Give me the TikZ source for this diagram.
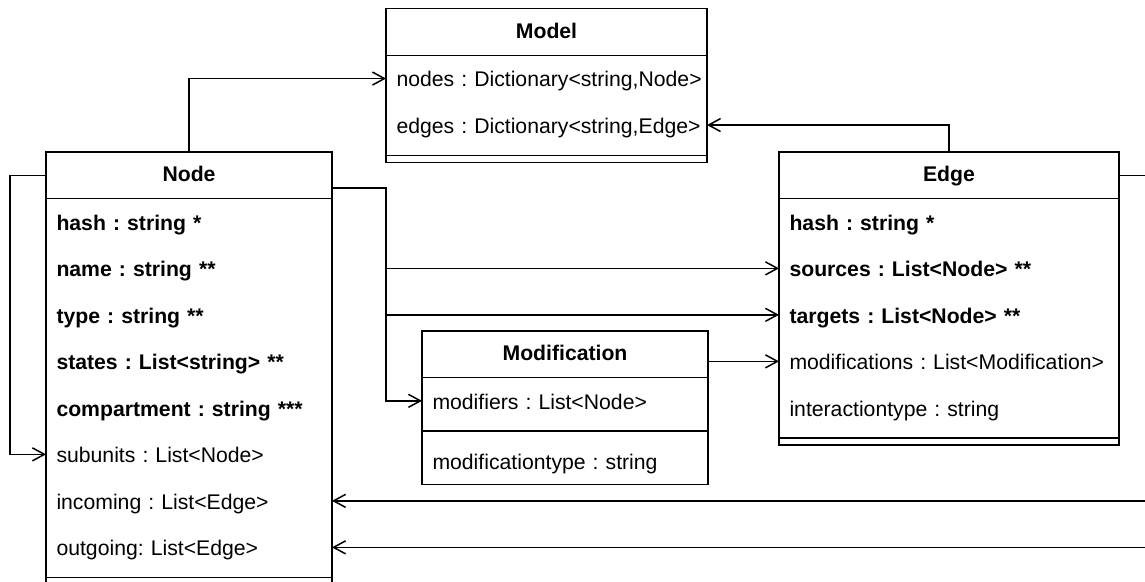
\documentclass[tikz,border=0pt]{standalone}
\usepackage{fontspec}
\setmainfont{Liberation Sans}
\frenchspacing
\usetikzlibrary{arrows.meta, positioning}

\begin{document}
\begin{tikzpicture} [
	x=1pt, y=-1pt, % coordinates in pixels, y goes down
	line width=1.5pt,
	>={Straight Barb[length=12pt, width=13pt]}, % open arrow heads
	every node/.style={font=\fontsize{21.2}{25}\selectfont, inner sep=0pt, outer sep=0pt},
	classhead/.style={draw, anchor=north west, minimum width=#1, minimum height=46.6pt, font=\fontsize{21.2}{25}\selectfont\bfseries, execute at begin node={\rule[-5pt]{0pt}{23pt}}}, % title of a class
	attr/.style={text width=#1, minimum height=46.5pt, align=left, execute at begin node={\noindent\hspace*{10.5pt}\rule[-5pt]{0pt}{26.5pt}}}, % one row of a class
	sepbox/.style={minimum width=#1, minimum height=14pt}, % gap with a line in it
	]
	\useasboundingbox (0,0) rectangle (1145,581);
	\clip (0,0) rectangle (1145,581);

	% Model
	\node[classhead=321pt] (mHead) at (386,8.7) {Model};
	\node[attr=321pt, below=0pt of mHead] (mNodes) {nodes : Dictionary<string,Node>};
	\node[attr=321pt, below=0pt of mNodes] (mEdges) {edges : Dictionary<string,Edge>};
	\node[sepbox=321pt, below=0pt of mEdges] (mSep) {};
	\draw (mHead.north west) rectangle (mSep.south east);
	\draw (mSep.west) -- (mSep.east);

	% Node
	\node[classhead=286pt] (nHead) at (46,152) {Node};
	\node[attr=286pt, below=0pt of nHead] (nHash) {\textbf{hash : string *}};
	\node[attr=286pt, below=0pt of nHash] (nName) {\textbf{name : string **}};
	\node[attr=286pt, below=0pt of nName] (nType) {\textbf{type : string **}};
	\node[attr=286pt, below=0pt of nType] (nStates) {\textbf{states : List<string> **}};
	\node[attr=286pt, below=0pt of nStates] (nComp) {\textbf{compartment : string ***}};
	\node[attr=286pt, below=0pt of nComp] (nSub) {subunits : List<Node>};
	\node[attr=286pt, below=0pt of nSub] (nIn) {incoming : List<Edge>};
	\node[attr=286pt, below=0pt of nIn] (nOut) {outgoing: List<Edge>};
	\node[sepbox=286pt, below=0pt of nOut] (nSep) {};
	\draw (nHead.north west) rectangle (nSep.south east);
	\draw (nSep.west) -- (nSep.east);

	% Edge
	\node[classhead=340pt] (eHead) at (779,152) {Edge};
	\node[attr=340pt, below=0pt of eHead] (eHash) {\textbf{hash : string *}};
	\node[attr=340pt, below=0pt of eHash] (eSrc) {\textbf{sources : List<Node> **}};
	\node[attr=340pt, below=0pt of eSrc] (eTgt) {\textbf{targets : List<Node> **}};
	\node[attr=340pt, below=0pt of eTgt] (eMods) {modifications : List<Modification>};
	\node[attr=340pt, below=0pt of eMods] (eType) {interactiontype : string};
	\node[sepbox=340pt, below=0pt of eType] (eSep) {};
	\draw (eHead.north west) rectangle (eSep.south east);
	\draw (eSep.west) -- (eSep.east);

	% Modification
	\node[classhead=286pt] (modHead) at (422,331) {Modification};
	\node[attr=286pt, below=0pt of modHead] (modMods) {modifiers : List<Node>};
	\node[sepbox=286pt, below=0pt of modMods] (modSep) {};
	\node[attr=286pt, below=0pt of modSep] (modType) {modificationtype : string};
	\draw (modHead.north west) rectangle (modType.south east);
	\draw (modSep.west) -- (modSep.east);

	% connectors
	\coordinate (nRight) at ([yshift=-12.7pt]nHead.east);
	\coordinate (fork) at (nRight -| mHead.west);
	\draw[->] (nHead.north) |- (mNodes.west);
	\draw[->] (eHead.north) |- (mEdges.east);
	\draw[->] (nHead.west) -- ++(-36,0) |- (nSub.west);
	\draw[->] (nRight) -- (fork) |- (eSrc.west);
	\draw[->] (fork) |- (eTgt.west);
	\draw[->] (fork) |- (modMods.west);
	\draw[->] (modHead.east |- eMods.west) -- (eMods.west);
	\draw[->] (eHead.east) -- ++(41,0) |- (nIn.east);
	\draw[->] (eHead.east) -- ++(41,0) |- (nOut.east);
\end{tikzpicture}
\end{document}
